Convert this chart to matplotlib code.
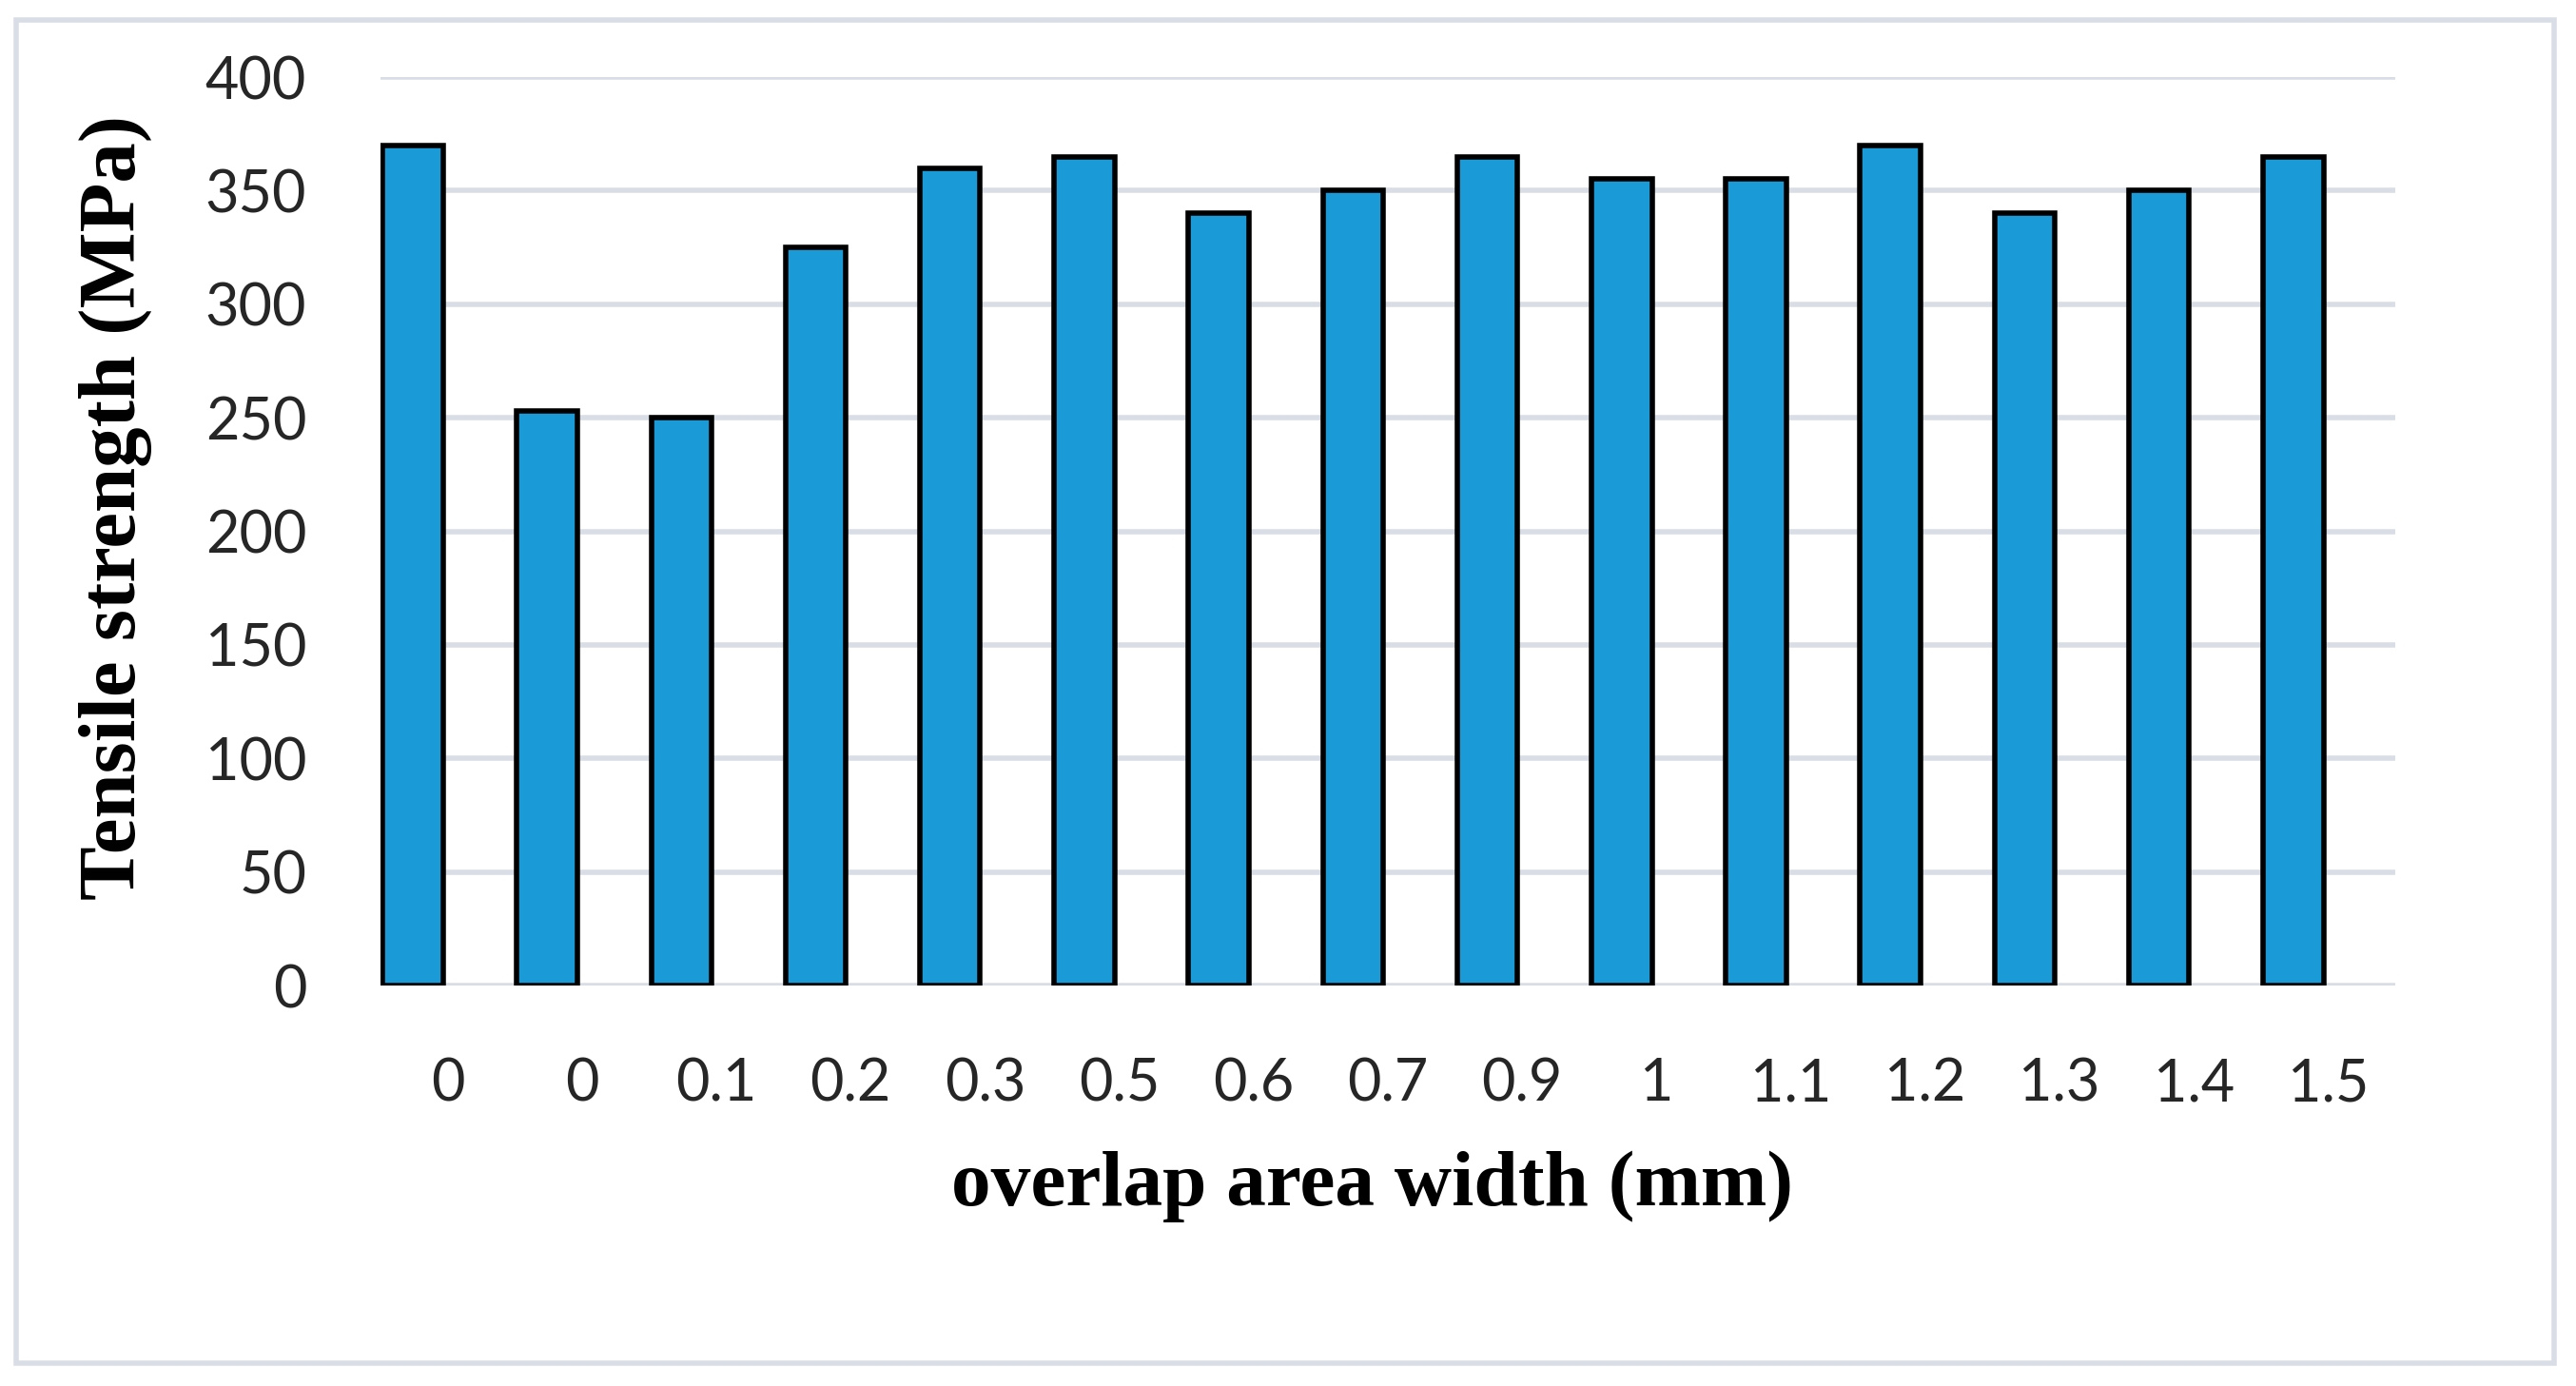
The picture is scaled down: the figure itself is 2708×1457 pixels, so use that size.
import matplotlib
matplotlib.use("Agg")
import matplotlib.pyplot as plt
from matplotlib.patches import Rectangle
import numpy as np

categories = ["0", "0", "0.1", "0.2", "0.3", "0.5", "0.6", "0.7", "0.9", "1", "1.1", "1.2", "1.3", "1.4", "1.5"]
strength = [370, 253, 250, 325, 360, 365, 340, 350, 365, 355, 355, 370, 340, 350, 365]
yticks = [0, 50, 100, 150, 200, 250, 300, 350, 400]

DPI = 200
fig = plt.figure(figsize=(2708 / DPI, 1457 / DPI), dpi=DPI)
fig.patch.set_facecolor("white")

# outer border
border = Rectangle((17 / 2708, 1 - 1433 / 1457), (2685 - 17) / 2708, (1433 - 21) / 1457,
                   transform=fig.transFigure, facecolor="none", edgecolor="#D9DEE6",
                   linewidth=2.0, zorder=-1)
fig.patches.append(border)

ax = fig.add_axes([0.1477, 0.2889, 0.7822, 0.6555])
ax.set_facecolor("none")
x = np.arange(len(categories))
ax.bar(x - 0.26, strength, width=0.45, color="#1A9BD7", edgecolor="black", linewidth=2.0, zorder=3)

ax.set_xlim(-0.5, len(categories) - 0.5)
ax.set_ylim(0, 400)
ax.set_yticks(yticks)
ax.set_xticks(x)
ax.set_xticklabels(categories)
ax.yaxis.grid(True, color="#D9DEE6", linewidth=2.0, zorder=0)
ax.set_axisbelow(True)
for s in ax.spines.values():
    s.set_visible(False)
ax.tick_params(axis="both", length=0, labelsize=22, labelcolor="#262626")
ax.tick_params(axis="y", pad=28)
ax.tick_params(axis="x", pad=27)
for lab in ax.get_xticklabels() + ax.get_yticklabels():
    lab.set_fontfamily("Lato")

fig.text(0.0447, 0.6335, "Tensile strength (MPa)", rotation=90, ha="center", va="center",
         fontsize=30.5, fontweight="bold", family="Liberation Serif", color="black")
fig.text(0.5325, 0.144, "overlap area width (mm)", ha="center", va="center",
         fontsize=30, fontweight="bold", family="Liberation Serif", color="black")

fig.savefig("out.png", dpi=DPI, facecolor="white")
